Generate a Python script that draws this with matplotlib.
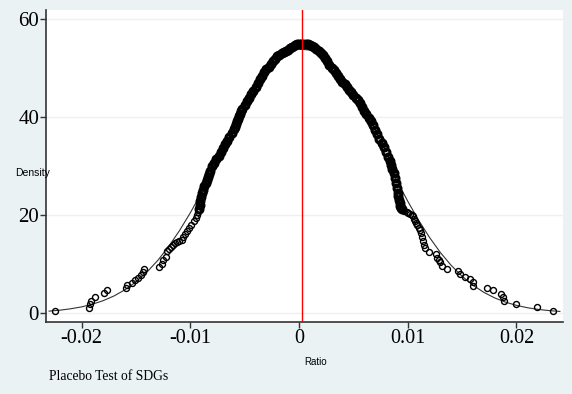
import matplotlib
matplotlib.use("Agg")
import matplotlib.pyplot as plt
import numpy as np

# placebo estimates (x) and their kernel density (y)
ratio = [
    -0.02245, -0.01929, -0.01923, -0.01916, -0.01877, -0.01794, -0.01769,
    -0.01592, -0.01580, -0.01539, -0.01509, -0.01478, -0.01456, -0.01438,
    -0.01426, -0.01285, -0.01263, -0.01248, -0.01226, -0.01217, -0.0120,
    -0.0118, -0.01156, -0.0114, -0.0112, -0.0110, -0.01079, -0.01070,
    -0.0105, -0.0103, -0.0101, -0.0099, -0.0097, -0.0095, -0.0094, -0.0093,
    -0.0092, -0.00915, -0.0091, -0.0090, -0.0089, -0.0088, -0.0087, -0.0086,
    -0.0085, -0.0084, -0.0083, -0.0082, -0.0080, -0.0078, -0.0076, -0.0074,
    -0.0072, -0.0070, -0.0068, -0.0066, -0.0064, -0.0062, -0.0060, -0.0059,
    -0.0058, -0.0057, -0.0056, -0.0055, -0.0054, -0.0053, -0.0052, -0.0050,
    -0.0048, -0.0046, -0.0044, -0.0042, -0.0040, -0.0038, -0.0036, -0.0034,
    -0.0032, -0.0030, -0.0028, -0.0026, -0.0024, -0.0022, -0.0020, -0.0018,
    -0.0016, -0.0014, -0.0012, -0.0010, -0.0008, -0.0006, -0.0004, -0.0002,
    0.0000, 0.0002, 0.0004, 0.0006, 0.0008, 0.0010, 0.0012, 0.0014, 0.0016,
    0.0018, 0.0020, 0.0022, 0.0024, 0.0026, 0.0028, 0.0030, 0.0032, 0.0034,
    0.0036, 0.0038, 0.0040, 0.0042, 0.0044, 0.0046, 0.0048, 0.0050, 0.0052,
    0.0054, 0.0056, 0.0058, 0.0060, 0.0062, 0.0064, 0.0066, 0.0068, 0.0070,
    0.0072, 0.0074, 0.0076, 0.0078, 0.0080, 0.0082, 0.0084, 0.0085, 0.0086,
    0.0087, 0.0088, 0.0089, 0.0090, 0.0091, 0.00915, 0.0092, 0.00925, 0.0093,
    0.0094, 0.0095, 0.0097, 0.0099, 0.0100, 0.0102, 0.0104, 0.0105, 0.0106,
    0.0107, 0.0108, 0.0109, 0.0110, 0.0111, 0.0112, 0.0113, 0.0114, 0.0115,
    0.0116, 0.01199, 0.01260, 0.01272, 0.01285, 0.01297, 0.01313, 0.01359,
    0.01466, 0.01481, 0.01527, 0.01573, 0.01604, 0.01604, 0.01732, 0.01788,
    0.01856, 0.01874, 0.01886, 0.01994, 0.02192, 0.02340,
]
density = [
    0.41, 0.95, 1.8, 2.5, 3.2, 4.1, 4.7,
    5.0, 5.7, 6.2, 6.7, 7.1, 7.8, 8.4,
    8.9, 9.4, 10.1, 10.8, 11.5, 12.7, 13.0,
    13.4, 13.9, 14.2, 14.4, 14.7, 14.9, 15.6,
    16.2, 16.8, 17.4, 18.0, 18.7, 19.4, 20.0, 20.6,
    21.3, 22.0, 22.8, 23.6, 24.4, 25.2, 26.0, 26.6,
    27.1, 27.7, 28.3, 29.0, 29.9, 30.6, 31.4, 32.1,
    32.9, 33.7, 34.5, 35.2, 35.9, 36.7, 37.5, 38.0,
    38.5, 39.1, 39.6, 40.2, 40.7, 41.3, 41.7, 42.4,
    43.2, 43.9, 44.6, 45.3, 46.1, 46.9, 47.7, 48.4,
    49.1, 49.7, 50.3, 50.8, 51.4, 51.9, 52.4, 52.7,
    53.0, 53.2, 53.5, 53.7, 54.0, 54.3, 54.6, 54.8,
    54.9, 55.0, 55.0, 54.9, 54.8, 54.6, 54.4, 54.2, 53.9,
    53.5, 53.1, 52.7, 52.1, 51.4, 50.7, 50.1, 49.5, 49.0,
    48.4, 47.8, 47.2, 46.7, 46.2, 45.6, 45.1, 44.5, 43.9,
    43.4, 42.8, 42.1, 41.3, 40.6, 39.8, 39.2, 38.3, 37.4,
    36.5, 35.6, 34.7, 33.8, 32.9, 31.9, 31.0, 30.2, 29.4,
    28.5, 27.6, 26.5, 25.5, 24.5, 23.8, 23.1, 22.4, 21.8,
    21.5, 21.2, 20.9, 20.6, 20.5, 20.3, 20.0, 19.7, 19.2,
    18.8, 18.4, 17.9, 17.4, 17.0, 16.3, 15.6, 14.7, 13.8,
    13.2, 12.5, 12.0, 11.2, 10.8, 10.5, 9.6, 9.0,
    8.6, 7.9, 7.4, 6.9, 6.3, 5.5, 5.1, 4.6,
    3.9, 3.2, 2.4, 1.8, 1.2, 0.35,
]

# overlaid normal density line
normal_x = [
    -0.023, -0.022, -0.021, -0.020, -0.019, -0.018, -0.017, -0.016, -0.015,
    -0.014, -0.013, -0.012, -0.011, -0.010, -0.009, -0.008, -0.007, -0.006,
    -0.005, -0.004, -0.003, -0.002, -0.001, 0.000, 0.001, 0.002, 0.003,
    0.004, 0.005, 0.006, 0.007, 0.008, 0.009, 0.010, 0.011, 0.012, 0.013,
    0.014, 0.015, 0.016, 0.017, 0.018, 0.019, 0.020, 0.021, 0.022, 0.023,
    0.024,
]
normal_y = [
    0.38, 0.57, 0.86, 1.25, 1.80, 2.53, 3.50, 4.76, 6.36,
    8.33, 10.72, 13.55, 16.80, 20.45, 24.46, 28.73, 33.15, 37.53,
    41.72, 45.53, 48.80, 51.36, 53.08, 53.86, 53.66, 52.50, 50.43,
    47.57, 44.06, 40.07, 35.79, 31.37, 27.00, 22.83, 18.95, 15.45, 12.36,
    9.72, 7.50, 5.68, 4.22, 3.08, 2.21, 1.56, 1.08, 0.73, 0.49,
    0.32,
]

true_effect = 0.00025
x_ticks = [-0.02, -0.01, 0, 0.01, 0.02]
x_labels = ["-0.02", "-0.01", "0", "0.01", "0.02"]
y_ticks = [0, 20, 40, 60]

bg = "#EAF2F3"
fig = plt.figure(figsize=(5.72, 3.94), dpi=100, facecolor=bg)
ax = fig.add_axes([46 / 572, 72 / 394, 517 / 572, 312 / 394])
ax.set_facecolor("white")

for y in y_ticks:
    ax.axhline(y, color=bg, lw=1.0, zorder=0)

ax.plot(normal_x, normal_y, color="#333333", lw=0.8, zorder=2)

rx = np.array(ratio)
dy = np.array(density)
ax.plot(rx, dy, ls="none", marker="o", ms=4.3, mfc="none",
        mec="black", mew=1.0, zorder=3)
# where the estimates pile up, the circles merge into a solid band
dense = dy >= 21
ax.plot(rx[dense], dy[dense], ls="none", marker="o", ms=5.0, mfc="none",
        mec="black", mew=2.2, zorder=3)
ax.axvline(true_effect, color="red", lw=1.0, zorder=4)

ax.set_xlim(-0.02328, 0.02429)
ax.set_ylim(-1.84, 61.84)

for s in ["top", "right"]:
    ax.spines[s].set_visible(False)
for s in ["left", "bottom"]:
    ax.spines[s].set_color("#333333")
    ax.spines[s].set_linewidth(1.2)

serif = ["Liberation Serif", "DejaVu Serif"]
ax.set_xticks(x_ticks)
ax.set_xticklabels(x_labels, family=serif, fontsize=14.5)
ax.set_yticks(y_ticks)
ax.set_yticklabels([str(v) for v in y_ticks], family=serif, fontsize=15)
ax.tick_params(axis="both", direction="out", length=4, width=1.0,
               color="#333333", pad=1)

fig.text(15 / 572, 1 - 173 / 394, "Density", family="Liberation Sans",
         fontsize=7.5, ha="left", va="center")
fig.text(316 / 572, 1 - 362 / 394, "Ratio", family="Liberation Sans",
         fontsize=7, ha="center", va="center")
fig.text(49 / 572, 1 - 377 / 394, "Placebo Test of SDGs", family=serif,
         fontsize=9.8, ha="left", va="center")

fig.savefig("out.png", dpi=100, facecolor=bg)
